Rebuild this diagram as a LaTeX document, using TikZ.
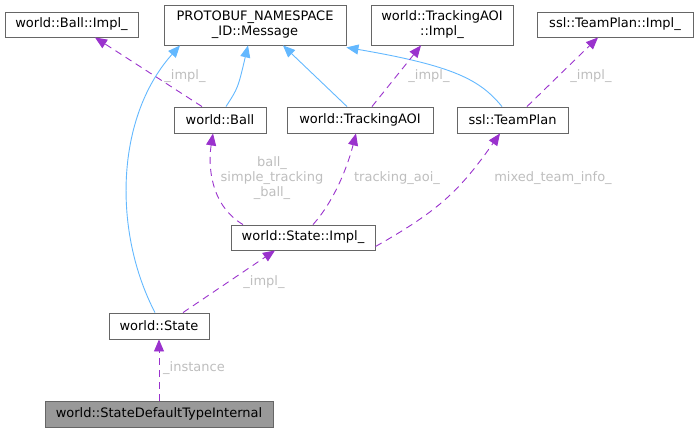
\documentclass[tikz,border=0pt]{standalone}
\usepackage{fontspec}
\setmainfont{DejaVu Sans}
\usetikzlibrary{arrows.meta}
\definecolor{boxline}{HTML}{666666}
\definecolor{inhblue}{HTML}{63B8FF}
\definecolor{usepurple}{HTML}{9A32CD}
\definecolor{lblgray}{HTML}{BEBEBE}
\tikzset{
  cls/.style={draw=boxline, fill=white, line width=0.9pt, inner sep=0pt, align=center,
    font=\fontsize{13}{15}\selectfont},
  inherit/.style={draw=inhblue, line width=0.9pt, -{Triangle[length=12pt,width=10pt]}},
  member/.style={draw=usepurple, line width=0.9pt, dash pattern=on 7pt off 5pt,
    -{Triangle[length=12pt,width=10pt]}},
  elabel/.style={text=lblgray, align=center, font=\fontsize{13}{15}\selectfont},
}
\begin{document}
\begin{tikzpicture}[x=1pt, y=-1pt]
\useasboundingbox (0,0) rectangle (698,432);
% class boxes
\node[cls, minimum width=133pt, minimum height=25pt] (ballimpl) at (71.5,24.5) {world::Ball::Impl\_};
\node[cls, minimum width=182pt, minimum height=40pt] (msg) at (255,25) {PROTOBUF\_NAMESPACE\\\_ID::Message};
\node[cls, minimum width=142pt, minimum height=40pt] (aoiimpl) at (442,25) {world::TrackingAOI\\::Impl\_};
\node[cls, minimum width=156pt, minimum height=25pt] (planimpl) at (615,24.5) {ssl::TeamPlan::Impl\_};
\node[cls, minimum width=92pt, minimum height=26pt] (ball) at (220,120) {world::Ball};
\node[cls, minimum width=146pt, minimum height=26pt] (aoi) at (360,120) {world::TrackingAOI};
\node[cls, minimum width=111pt, minimum height=26pt] (plan) at (512.5,120) {ssl::TeamPlan};
\node[cls, minimum width=144pt, minimum height=25pt] (stateimpl) at (303,237.5) {world::State::Impl\_};
\node[cls, minimum width=100pt, minimum height=26pt] (state) at (159,326) {world::State};
\node[cls, fill=black!40, minimum width=228pt, minimum height=26pt] (internal) at (159,414) {world::StateDefaultTypeInternal};
% inheritance
\draw[inherit] ([xshift=6pt]ball.north) .. controls (238,88) .. ([xshift=-7pt]msg.south);
\draw[inherit] ([xshift=-13pt]aoi.north) -- ([xshift=28pt]msg.south);
\draw[inherit] ([xshift=-10.5pt]plan.north) .. controls (480,80) and (455,66) .. ([yshift=-2pt]msg.south east);
\draw[inherit] ([xshift=-4pt]state.north) .. controls (113,232) and (115,118) .. ([xshift=-75pt]msg.south);
% members
\draw[member] ([xshift=-18pt]ball.north) -- ([xshift=23.5pt]ballimpl.south);
\node[elabel] (balllinklbl) at (185,76) {\_impl\_};
\draw[member] ([xshift=12pt]aoi.north) -- ([xshift=-21pt]aoiimpl.south);
\node[elabel] (aoilbl) at (429,76) {\_impl\_};
\draw[member] ([xshift=14.5pt]plan.north) -- ([xshift=-17pt]planimpl.south);
\node[elabel] (planlbl) at (591,76) {\_impl\_};
\draw[member] ([xshift=-60pt]stateimpl.north) .. controls (210,205) and (208,165) .. ([xshift=-7pt]ball.south);
\node[elabel] (balllbl) at (272,178) {ball\_\\simple\_tracking\\\_ball\_};
\draw[member] ([xshift=10pt]stateimpl.north) .. controls (335,200) and (348,165) .. ([xshift=-4pt]aoi.south);
\node[elabel] (aoimemlbl) at (397,178) {tracking\_aoi\_};
\draw[member] ([yshift=-9pt]stateimpl.east) .. controls (440,210) and (460,190) .. ([xshift=-12.5pt]plan.south);
\node[elabel] (planmemlbl) at (553,178) {mixed\_team\_info\_};
\draw[member] ([xshift=24pt]state.north) -- ([xshift=-28pt]stateimpl.south);
\node[elabel] (statelbl) at (264,282) {\_impl\_};
\draw[member] (internal.north) -- (state.south);
\node[elabel] (instlbl) at (194,368) {\_instance};
\end{tikzpicture}
\end{document}
